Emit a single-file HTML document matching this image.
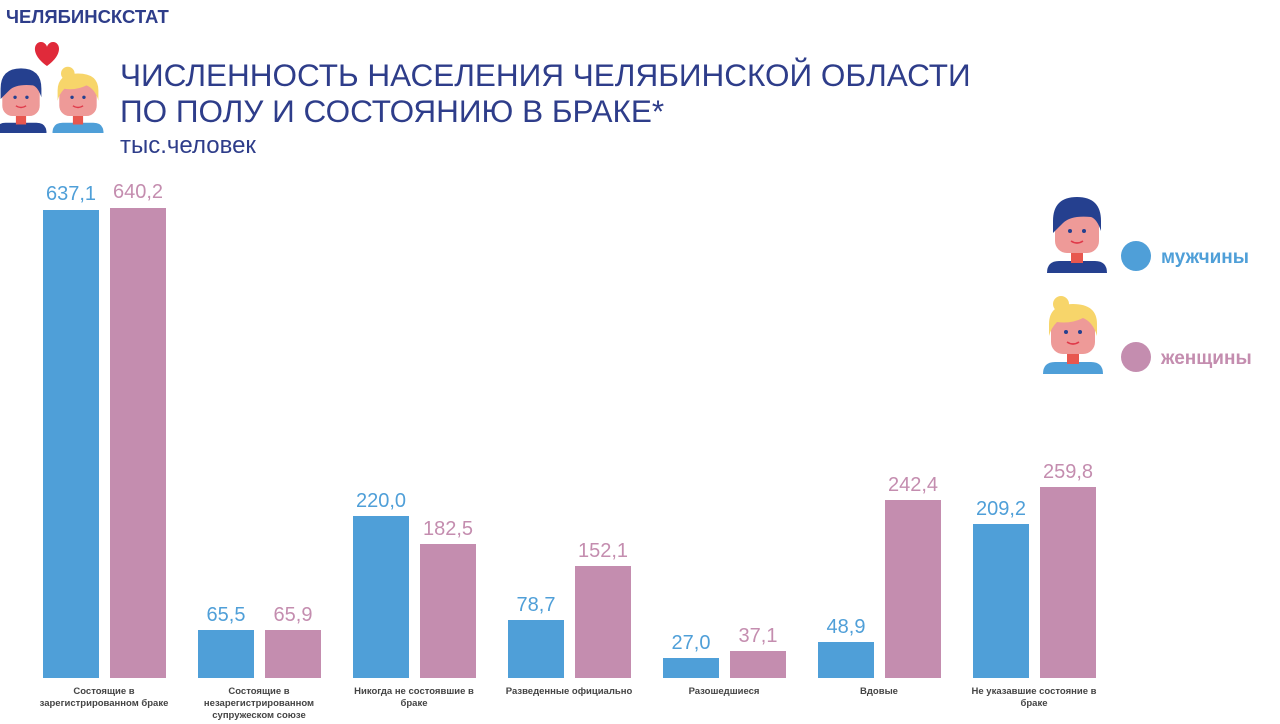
<!DOCTYPE html>
<html><head><meta charset="utf-8"><style>
html,body{margin:0;padding:0;background:#fff}
svg{display:block;font-family:"Liberation Sans",sans-serif}
</style></head><body>
<svg width="1280" height="724" viewBox="0 0 1280 724">
<defs>
<g id="man">
<path d="M-30,40 Q-30,28 -18,28 L18,28 Q30,28 30,40 Z" fill="#25408f"/>
<rect x="-6" y="14" width="12" height="16" fill="#e8574f"/>
<rect x="-22" y="-22" width="44" height="42" rx="12" fill="#ee9a98"/>
<path d="M-24,0 L-24,-12 Q-24,-36 0,-36 Q24,-36 24,-12 L24,-2 Q20,-14 14,-16 Q-6,-18 -14,-10 Q-20,-4 -24,0Z" fill="#25408f"/>
<circle cx="-7" cy="-2" r="2" fill="#25408f"/><circle cx="7" cy="-2" r="2" fill="#25408f"/>
<path d="M-6,8 Q0,12 6,8" stroke="#e03a4a" stroke-width="1.6" fill="none"/>
</g>
<g id="woman">
<path d="M-30,40 Q-30,28 -18,28 L18,28 Q30,28 30,40 Z" fill="#4f9fd8"/>
<rect x="-6" y="14" width="12" height="16" fill="#e8574f"/>
<rect x="-22" y="-22" width="44" height="42" rx="12" fill="#ee9a98"/>
<circle cx="-12" cy="-30" r="8" fill="#f7d56a"/>
<path d="M-24,2 L-24,-10 Q-24,-30 0,-30 Q24,-30 24,-10 L24,2 Q20,-12 10,-16 Q-2,-10 -16,-12 Q-22,-6 -24,2Z" fill="#f7d56a"/>
<circle cx="-7" cy="-2" r="2" fill="#25408f"/><circle cx="7" cy="-2" r="2" fill="#25408f"/>
<path d="M-6,8 Q0,12 6,8" stroke="#e03a4a" stroke-width="1.6" fill="none"/>
</g>
</defs>
<text x="6" y="23" font-size="18.5" font-weight="bold" fill="#2e3d8a">ЧЕЛЯБИНСКСТАТ</text>
<path d="M47,66 C30,54 34,42 41,42 C45,42 47,46 47,47 C47,46 49,42 53,42 C60,42 64,54 47,66Z" fill="#e02a3a"/>
<use href="#man" transform="translate(21,99) scale(0.85)"/>
<use href="#woman" transform="translate(78,99) scale(0.85)"/>
<g font-size="31.5" fill="#2e3d8a">
<text x="120" y="86">ЧИСЛЕННОСТЬ НАСЕЛЕНИЯ ЧЕЛЯБИНСКОЙ ОБЛАСТИ</text>
<text x="120" y="122">ПО ПОЛУ И СОСТОЯНИЮ В БРАКЕ*</text>
</g>
<text x="120" y="153" font-size="24" fill="#2e3d8a">тыс.человек</text>
<use href="#man" transform="translate(1077,233)"/>
<use href="#woman" transform="translate(1073,334)"/>
<circle cx="1136" cy="256" r="15" fill="#4f9fd8"/>
<circle cx="1136" cy="357" r="15" fill="#c48daf"/>
<text x="1161" y="263" font-size="19" font-weight="bold" fill="#4f9fd8">мужчины</text>
<text x="1161" y="364" font-size="19" font-weight="bold" fill="#c48daf">женщины</text>
<g id="bars">
<rect x="43" y="210" width="56" height="468" fill="#4f9fd8"/><rect x="110" y="208" width="56" height="470" fill="#c48daf"/>
<rect x="198" y="630" width="56" height="48" fill="#4f9fd8"/><rect x="265" y="630" width="56" height="48" fill="#c48daf"/>
<rect x="353" y="516" width="56" height="162" fill="#4f9fd8"/><rect x="420" y="544" width="56" height="134" fill="#c48daf"/>
<rect x="508" y="620" width="56" height="58" fill="#4f9fd8"/><rect x="575" y="566" width="56" height="112" fill="#c48daf"/>
<rect x="663" y="658" width="56" height="20" fill="#4f9fd8"/><rect x="730" y="651" width="56" height="27" fill="#c48daf"/>
<rect x="818" y="642" width="56" height="36" fill="#4f9fd8"/><rect x="885" y="500" width="56" height="178" fill="#c48daf"/>
<rect x="973" y="524" width="56" height="154" fill="#4f9fd8"/><rect x="1040" y="487" width="56" height="191" fill="#c48daf"/>
</g>
<g font-size="20" text-anchor="middle">
<g fill="#4f9fd8">
<text x="71" y="200">637,1</text><text x="226" y="621">65,5</text><text x="381" y="507">220,0</text>
<text x="536" y="611">78,7</text><text x="691" y="649">27,0</text><text x="846" y="633">48,9</text><text x="1001" y="515">209,2</text>
</g>
<g fill="#c48daf">
<text x="138" y="198">640,2</text><text x="293" y="621">65,9</text><text x="448" y="535">182,5</text>
<text x="603" y="557">152,1</text><text x="758" y="642">37,1</text><text x="913" y="491">242,4</text><text x="1068" y="478">259,8</text>
</g>
</g>
<g font-size="9.5" font-weight="bold" fill="#444" text-anchor="middle">
<text x="104" y="694">Состоящие в</text><text x="104" y="706">зарегистрированном браке</text>
<text x="259" y="694">Состоящие в</text><text x="259" y="706">незарегистрированном</text><text x="259" y="718">супружеском союзе</text>
<text x="414" y="694">Никогда не состоявшие в</text><text x="414" y="706">браке</text>
<text x="569" y="694">Разведенные официально</text>
<text x="724" y="694">Разошедшиеся</text>
<text x="879" y="694">Вдовые</text>
<text x="1034" y="694">Не указавшие состояние в</text><text x="1034" y="706">браке</text>
</g>
</svg>
</body></html>
